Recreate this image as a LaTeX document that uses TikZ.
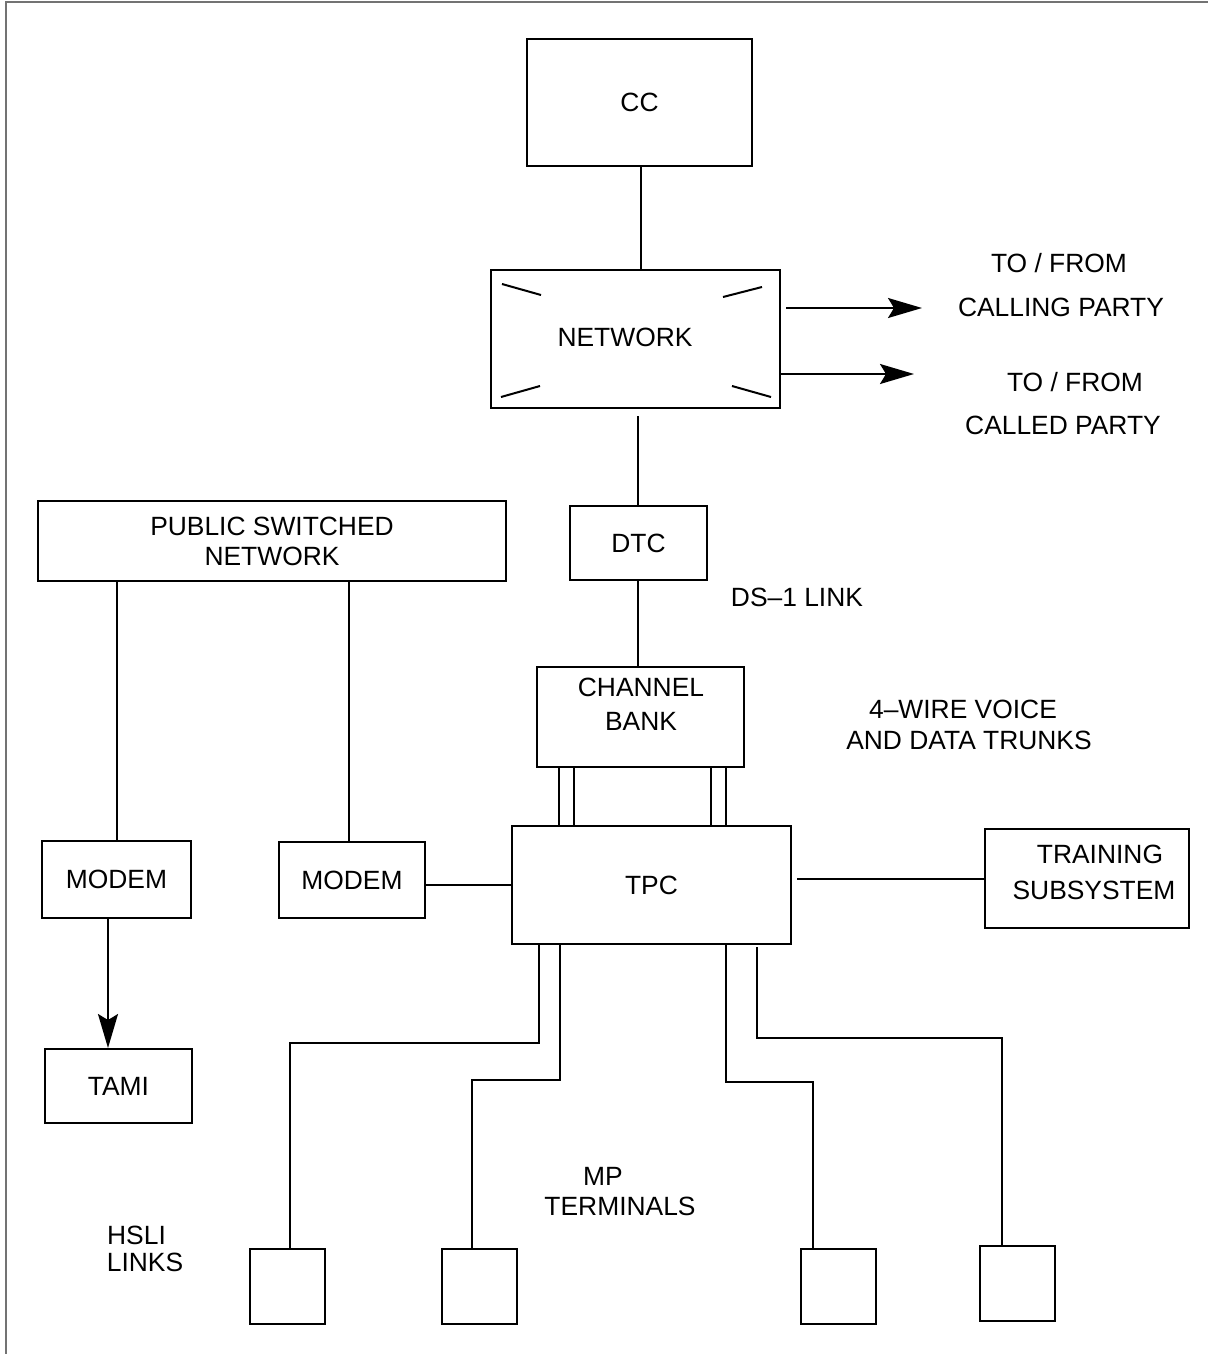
\documentclass[tikz,border=0pt]{standalone}
\usepackage{fontspec}
\setmainfont{Liberation Sans}
\usetikzlibrary{arrows.meta,calc}
\begin{document}
\begin{tikzpicture}[x=1pt,y=-1pt,
  box/.style={draw, line width=2pt, inner sep=0pt, anchor=north west, align=center, font=\fontsize{26.4}{30}\selectfont},
  txt/.style={inner sep=0pt, align=center, font=\fontsize{26.4}{30}\selectfont},
  ln/.style={line width=2pt},
  arr/.style={line width=2pt, -{Stealth[length=34pt,width=20pt,inset=6pt]}},
]
\path[use as bounding box, fill=white] (0,0) rectangle (1208,1354);
\draw[black!55, line width=2pt] (6,1354) -- (6,2) -- (1208,2);

% boxes
\node[box, minimum width=225pt, minimum height=127pt] (cc) at (526,38) {CC};
\node[box, minimum width=289pt, minimum height=138pt] (net) at (490,269) {};
\node[txt] (netL) at (625,337) {NETWORK};
\node[box, minimum width=137pt, minimum height=74pt] (dtc) at (569,505) {DTC};
\node[box, minimum width=207pt, minimum height=100pt] (cb) at (536,666) {};
\node[txt] (cbL) at (641,704) {CHANNEL\\[4pt]BANK};
\node[box, minimum width=279pt, minimum height=118pt] (tpc) at (511,825) {TPC};
\node[box, minimum width=468pt, minimum height=80pt] (psn) at (37,500) {PUBLIC SWITCHED\\NETWORK};
\node[box, minimum width=149pt, minimum height=77pt] (m1) at (41,840) {MODEM};
\node[box, minimum width=146pt, minimum height=76pt] (m2) at (278,841) {MODEM};
\node[box, minimum width=147pt, minimum height=74pt] (tami) at (44,1048) {TAMI};
\node[box, minimum width=204pt, minimum height=99pt] (train) at (984,828) {};
\node[txt] (trainL) at (1094,872) {\hspace*{12pt}TRAINING\\[6pt]SUBSYSTEM};
\node[box, minimum width=75pt, minimum height=75pt] (t1) at (249,1248) {};
\node[box, minimum width=75pt, minimum height=75pt] (t2) at (441,1248) {};
\node[box, minimum width=75pt, minimum height=75pt] (t3) at (800,1248) {};
\node[box, minimum width=75pt, minimum height=75pt] (t4) at (979,1245) {};

% network corner marks
\draw[ln] ([shift={(12,15)}]net.north west) -- ([shift={(51,26)}]net.north west);
\draw[ln] ([shift={(-58,28)}]net.north east) -- ([shift={(-19,18)}]net.north east);
\draw[ln] ([shift={(11,-12)}]net.south west) -- ([shift={(50,-23)}]net.south west);
\draw[ln] ([shift={(-49,-23)}]net.south east) -- ([shift={(-10,-12)}]net.south east);

% labels
\node[txt] (tf1) at (1059,263) {TO / FROM};
\node[txt] (calling) at (1061,307) {CALLING PARTY};
\node[txt] (tf2) at (1075,382) {TO / FROM};
\node[txt] (called) at (1063,425) {CALLED PARTY};
\node[txt] (ds1) at (797,597) {DS--1 LINK};
\node[txt] (wire) at (969,725) {\hspace*{-12pt}4--WIRE VOICE\\[1pt]AND DATA TRUNKS};
\node[txt] (mp) at (620,1192) {\hspace*{-34pt}MP\\TERMINALS};
\node[txt] (hsli) at (145,1249) {\hspace*{-17pt}HSLI\\[-3pt]LINKS};

% arrows to parties
\coordinate (a1) at (922,308);
\coordinate (a2) at (914,374);
\draw[arr, shorten <=5pt] (net.east |- a1) -- (a1);
\draw[arr] (net.east |- a2) -- (a2);

% vertical chain
\draw[ln] ([xshift=1pt]cc.south) -- ([xshift=1pt]cc.south |- net.north);
\draw[ln, shorten <=7pt] ([xshift=-1pt]dtc.north |- net.south) -- ([xshift=-1pt]dtc.north);
\draw[ln] ([xshift=-1pt]dtc.south) -- ([xshift=-1pt]dtc.south |- cb.north);
\foreach \dx in {23,38,175,190}
  \draw[ln] ([xshift=\dx pt]cb.south west) -- ([xshift=\dx pt]cb.south west |- tpc.north);

% public switched network
\draw[ln] ([xshift=80pt]psn.south west) -- ([xshift=80pt]psn.south west |- m1.north);
\draw[ln] ([xshift=312pt]psn.south west) -- ([xshift=312pt]psn.south west |- m2.north);
\draw[ln] (tpc.west) -- (tpc.west -| m2.east);
\draw[arr] ([xshift=67pt]m1.south west) -- ([xshift=67pt]m1.south west |- tami.north);
\draw[ln, shorten <=5pt] (train.west -| tpc.east) -- (train.west);

% HSLI links to terminals
\draw[ln] ([xshift=28pt]tpc.south west) -- ++(0,98) -| ([xshift=41pt]t1.north west);
\draw[ln] ([xshift=49pt]tpc.south west) -- ++(0,135) -| ([xshift=31pt]t2.north west);
\draw[ln] ([xshift=215pt]tpc.south west) -- ++(0,137) -| ([xshift=13pt]t3.north west);
\draw[ln, shorten <=2pt] ([xshift=246pt]tpc.south west) -- ++(0,93) -| ([xshift=23pt]t4.north west);
\end{tikzpicture}
\end{document}
